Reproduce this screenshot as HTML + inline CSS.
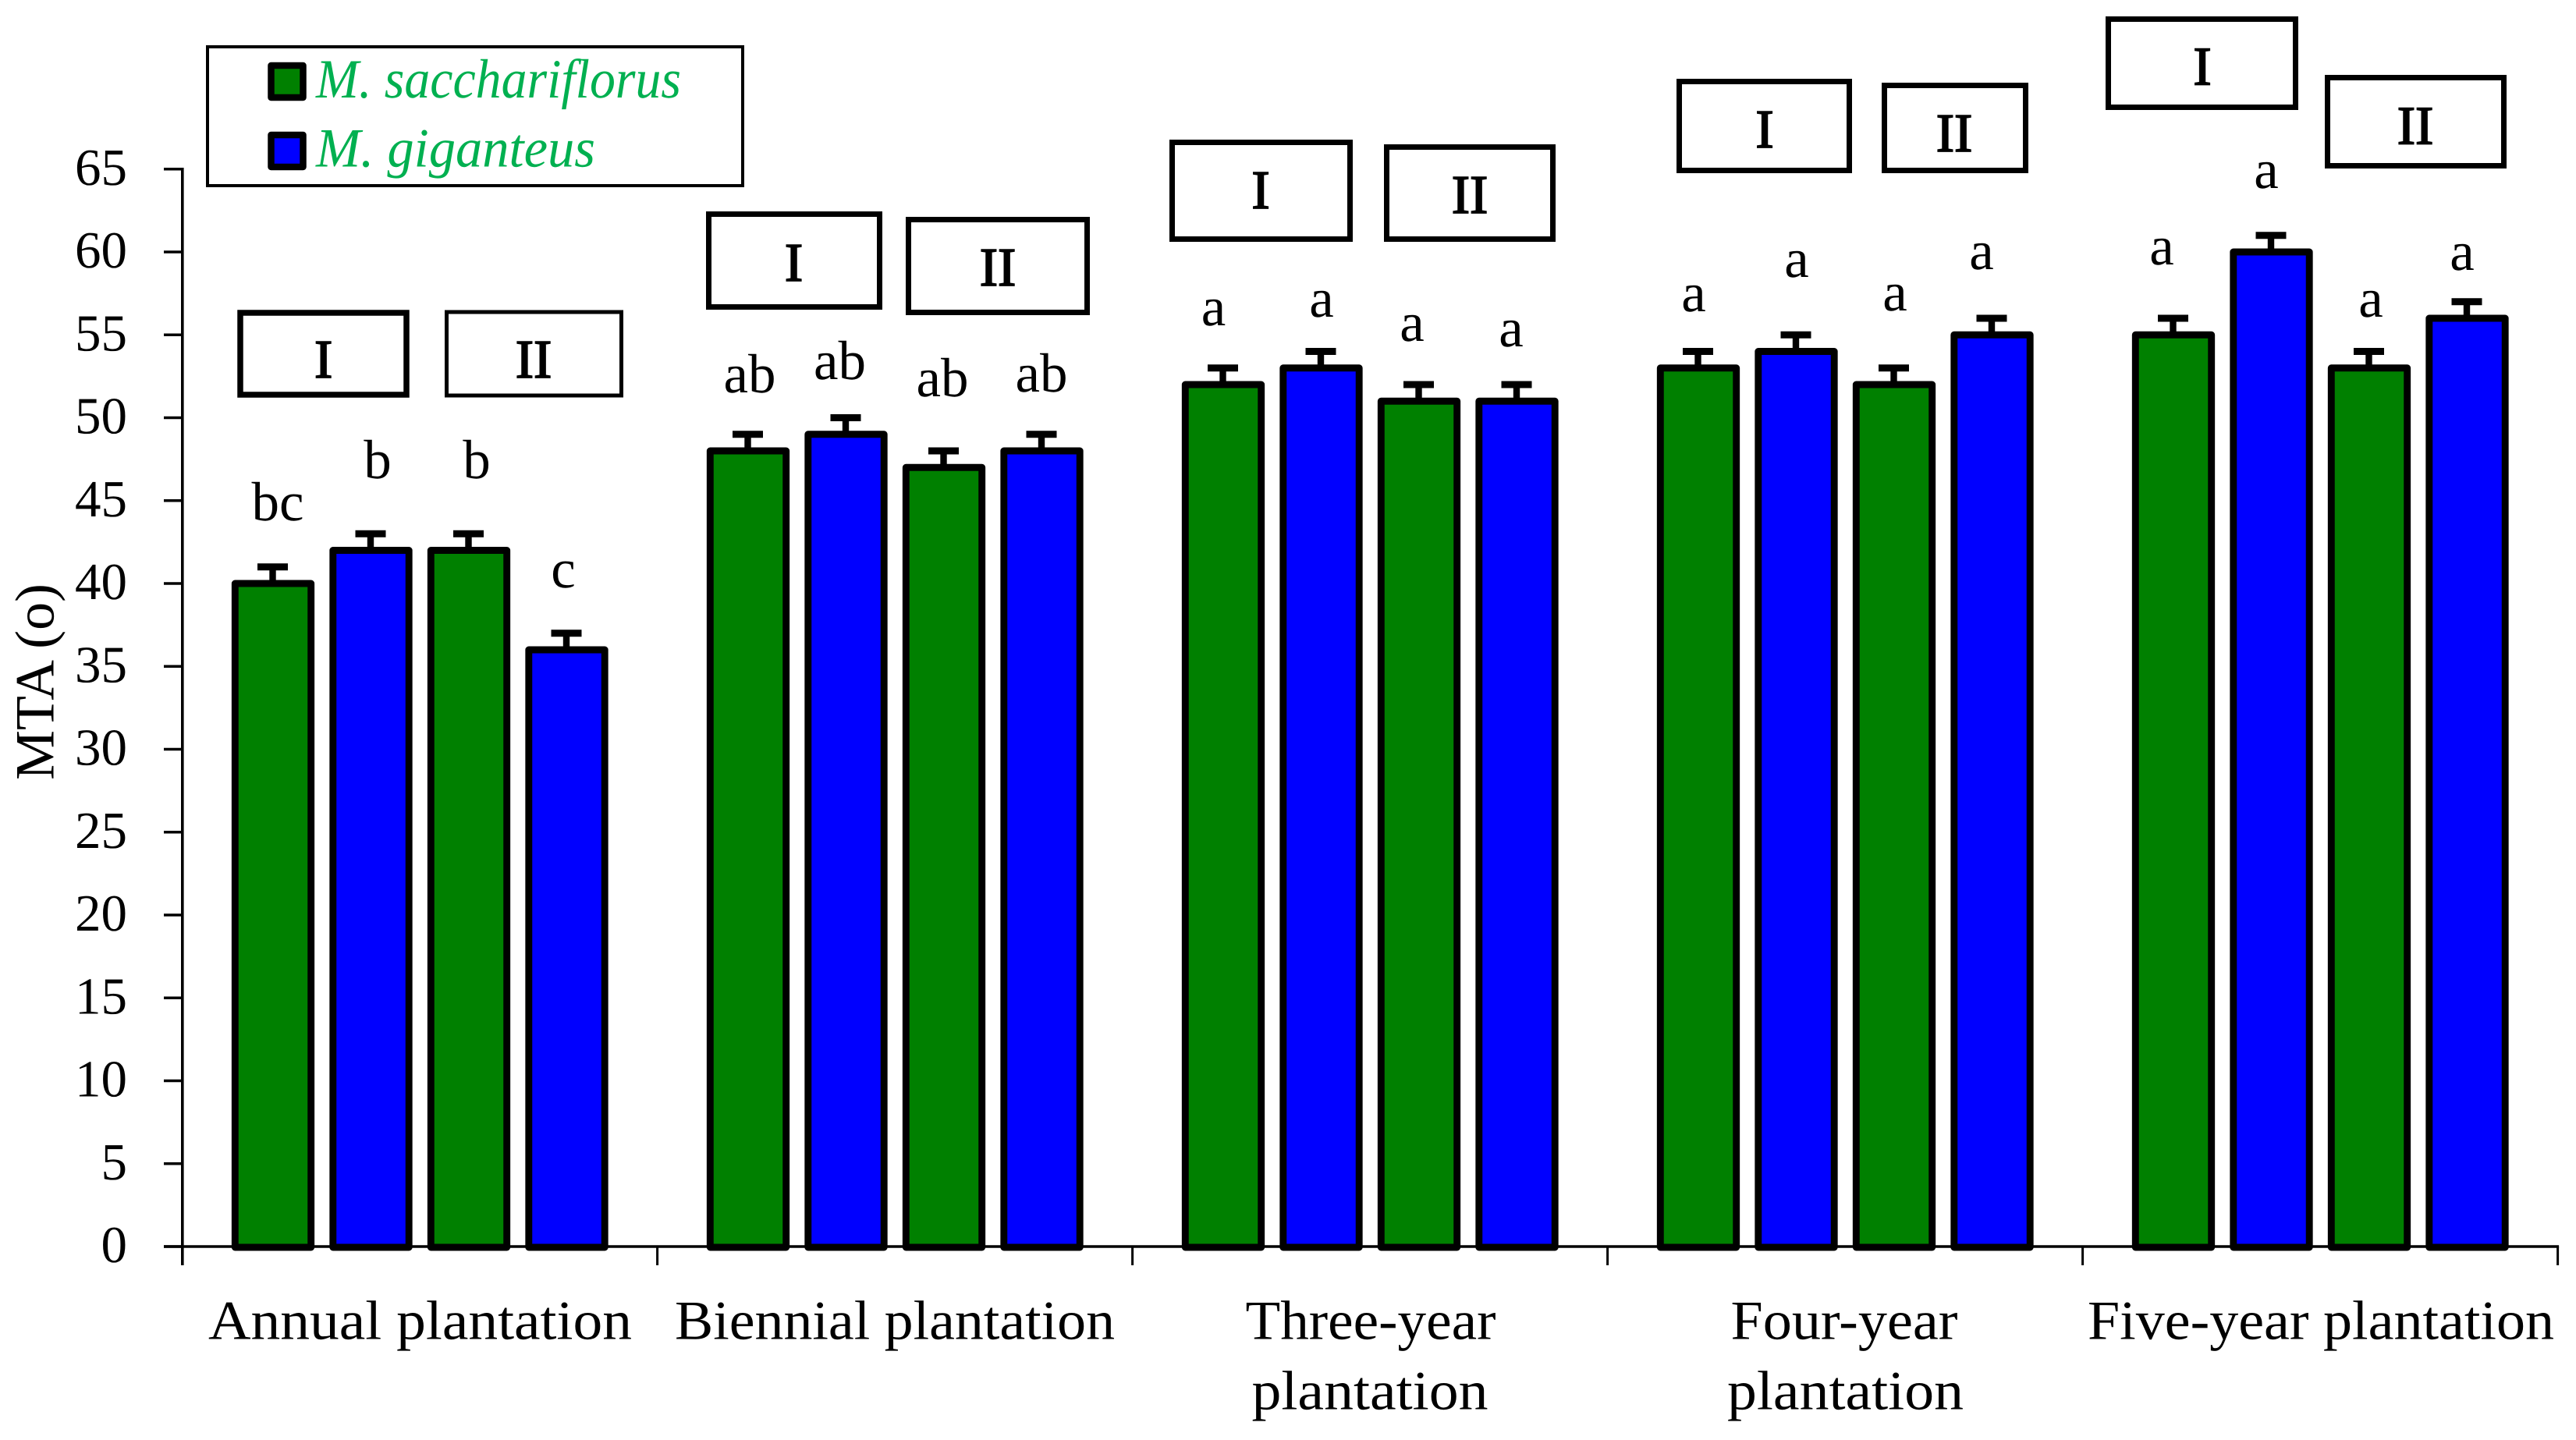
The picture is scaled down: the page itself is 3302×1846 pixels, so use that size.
<!DOCTYPE html>
<html lang="en">
<head>
<meta charset="utf-8">
<title>MTA by plantation age</title>
<style>
html,body{margin:0;padding:0;background:#fff}
svg{display:block}
text{font-family:"Liberation Serif",serif;fill:#000;text-rendering:geometricPrecision}
.tick{font-size:67px;text-anchor:end}
.cat{font-size:71px;text-anchor:middle}
.sig{font-size:71px;text-anchor:middle}
.roman{font-size:70px;text-anchor:middle;stroke:#000;stroke-width:1.8px}
.leg{font-size:71px;font-style:italic;fill:#00B050}
.ann{fill:#fff;stroke:#000}
</style>
</head>
<body>
<svg id="chart" xmlns="http://www.w3.org/2000/svg" width="3302" height="1846" viewBox="0 0 3302 1846">
  <rect x="0" y="0" width="3302" height="1846" fill="#fff"/>
  <g id="axes"></g>
  <g id="bars"></g>

  <text transform="translate(68.5,1000) rotate(-90)" font-size="71" textLength="252" lengthAdjust="spacingAndGlyphs">MTA (o)</text>

  <g>
    <text class="cat" x="538.5" y="1716.5" textLength="543" lengthAdjust="spacingAndGlyphs">Annual plantation</text>
    <text class="cat" x="1147" y="1716.5" textLength="564" lengthAdjust="spacingAndGlyphs">Biennial plantation</text>
    <text class="cat" x="1757" y="1716.5" textLength="321" lengthAdjust="spacingAndGlyphs">Three-year</text>
    <text class="cat" x="1756" y="1806.5" textLength="303" lengthAdjust="spacingAndGlyphs">plantation</text>
    <text class="cat" x="2364" y="1716.5" textLength="291" lengthAdjust="spacingAndGlyphs">Four-year</text>
    <text class="cat" x="2365.5" y="1806.5" textLength="303" lengthAdjust="spacingAndGlyphs">plantation</text>
    <text class="cat" x="2975" y="1716.5" textLength="598" lengthAdjust="spacingAndGlyphs">Five-year plantation</text>
  </g>

  <g>
    <rect x="266" y="60" width="686" height="178" fill="#fff" stroke="#000" stroke-width="4"/>
    <rect x="347.5" y="84" width="41" height="41" fill="#008000" stroke="#000" stroke-width="8.5" stroke-linejoin="round"/>
    <text class="leg" x="405" y="125" textLength="468" lengthAdjust="spacingAndGlyphs">M. sacchariflorus</text>
    <rect x="347.5" y="173" width="41" height="41" fill="#0000FF" stroke="#000" stroke-width="8.5" stroke-linejoin="round"/>
    <text class="leg" x="405" y="213.5" textLength="358" lengthAdjust="spacingAndGlyphs">M. giganteus</text>
  </g>

  <g>
    <rect class="ann" x="308" y="401" width="213" height="105" stroke-width="7.5"/>
    <text class="roman" x="414.6" y="484">I</text>
    <rect class="ann" x="572.5" y="400" width="224" height="107" stroke-width="5"/>
    <text class="roman" x="684" y="484">II</text>

    <rect class="ann" x="908.5" y="274.5" width="219" height="119" stroke-width="7"/>
    <text class="roman" x="1017.5" y="360">I</text>
    <rect class="ann" x="1164.5" y="281.5" width="229" height="119" stroke-width="7"/>
    <text class="roman" x="1279" y="366">II</text>

    <rect class="ann" x="1502.5" y="182.5" width="228" height="124" stroke-width="7"/>
    <text class="roman" x="1616" y="267">I</text>
    <rect class="ann" x="1777.5" y="188.5" width="213" height="118" stroke-width="7"/>
    <text class="roman" x="1884" y="273">II</text>

    <rect class="ann" x="2152.5" y="104.5" width="218" height="114" stroke-width="7"/>
    <text class="roman" x="2262" y="189">I</text>
    <rect class="ann" x="2415.5" y="109.5" width="181" height="109" stroke-width="7"/>
    <text class="roman" x="2505" y="194">II</text>

    <rect class="ann" x="2702.5" y="24.5" width="240" height="113" stroke-width="7"/>
    <text class="roman" x="2823" y="108.7">I</text>
    <rect class="ann" x="2983.5" y="99.5" width="226" height="113" stroke-width="7"/>
    <text class="roman" x="3096" y="184.7">II</text>
  </g>

  <g>
    <text class="sig" x="356" y="667">bc</text>
    <text class="sig" x="484" y="613">b</text>
    <text class="sig" x="611" y="613">b</text>
    <text class="sig" x="722" y="753">c</text>
    <text class="sig" x="961" y="503">ab</text>
    <text class="sig" x="1076.5" y="486">ab</text>
    <text class="sig" x="1208" y="508">ab</text>
    <text class="sig" x="1335" y="502">ab</text>
    <text class="sig" x="1555.5" y="417">a</text>
    <text class="sig" x="1694" y="406">a</text>
    <text class="sig" x="1810" y="437">a</text>
    <text class="sig" x="1937" y="444">a</text>
    <text class="sig" x="2171" y="399">a</text>
    <text class="sig" x="2303" y="355">a</text>
    <text class="sig" x="2429" y="398">a</text>
    <text class="sig" x="2540" y="345">a</text>
    <text class="sig" x="2771" y="339">a</text>
    <text class="sig" x="2905" y="241">a</text>
    <text class="sig" x="3039" y="406">a</text>
    <text class="sig" x="3156" y="346">a</text>
  </g>
</svg>

<script>
const categories = ["Annual plantation", "Biennial plantation", "Three-year plantation", "Four-year plantation", "Five-year plantation"];
const yTicks = [0, 5, 10, 15, 20, 25, 30, 35, 40, 45, 50, 55, 60, 65];
const saccharI = [40, 48, 52, 53, 55];
const giganteusI = [42, 49, 53, 54, 60];
const saccharII = [42, 47, 51, 52, 53];
const giganteusII = [36, 48, 51, 55, 56];
const errSaccharI = [1, 1, 1, 1, 1];
const errGiganteusI = [1, 1, 1, 1, 1];
const errSaccharII = [1, 1, 1, 1, 1];
const errGiganteusII = [1, 1, 1, 1, 1];

const NS = "http://www.w3.org/2000/svg";
const GREEN = "#008000";
const BLUE = "#0000FF";
const INK = "#000";

function yScale(v) { return 1598 - v * 21.25; }
function xEdge(i) { return 233.6 + i * 609; }
function xBar(groupIndex, barIndex) { return 349.5 + groupIndex * 609 + barIndex * 125.5; }

function make(tag, attrs) {
  const el = document.createElementNS(NS, tag);
  for (const k in attrs) el.setAttribute(k, attrs[k]);
  return el;
}

const axes = document.getElementById("axes");
const bars = document.getElementById("bars");

const yLine = make("line", { x1: 233.8, x2: 233.8, y1: yScale(65) - 1.7, y2: 1622, stroke: INK, "stroke-width": 3.6 });


axes.appendChild(yLine);

const xLine = make("line", { x1: 210, x2: xEdge(categories.length) + 1.5, y1: yScale(0), y2: yScale(0), stroke: INK, "stroke-width": 3.4 });


axes.appendChild(xLine);

yTicks.forEach(function (t) {
  const mark = make("line", { x1: 210, x2: 234, y1: yScale(t), y2: yScale(t), stroke: INK, "stroke-width": 3.4 });
  
  
  axes.appendChild(mark);
  const label = make("text", { class: "tick", x: 163, y: yScale(t) + 20 });
  
  
  label.textContent = String(t);
  axes.appendChild(label);
});

for (let i = 0; i <= categories.length; i++) {
  const mark = make("line", { x1: xEdge(i), x2: xEdge(i), y1: yScale(0), y2: 1622, stroke: INK, "stroke-width": 3 });
  
  
  axes.appendChild(mark);
}

function drawBar(groupIndex, barIndex, value, err, color) {
  const cx = xBar(groupIndex, barIndex);
  const stem = make("line", { x1: cx, x2: cx, y1: yScale(value), y2: yScale(value + err), stroke: INK, "stroke-width": 8.4 });
  
  
  bars.appendChild(stem);
  const cap = make("line", { x1: cx - 19.5, x2: cx + 19.5, y1: yScale(value + err), y2: yScale(value + err), stroke: INK, "stroke-width": 9 });
  
  
  bars.appendChild(cap);
  const bar = make("rect", {
    x: cx - 48.2, y: yScale(value), width: 97.4, height: yScale(0) - yScale(value) + 1,
    fill: color, stroke: INK, "stroke-width": 8.9, "stroke-linejoin": "round"
  });
  
  
  bars.appendChild(bar);
}

categories.forEach(function (c, g) {
  drawBar(g, 0, saccharI[g], errSaccharI[g], GREEN);
  drawBar(g, 1, giganteusI[g], errGiganteusI[g], BLUE);
  drawBar(g, 2, saccharII[g], errSaccharII[g], GREEN);
  drawBar(g, 3, giganteusII[g], errGiganteusII[g], BLUE);
});
</script>
</body>
</html>
